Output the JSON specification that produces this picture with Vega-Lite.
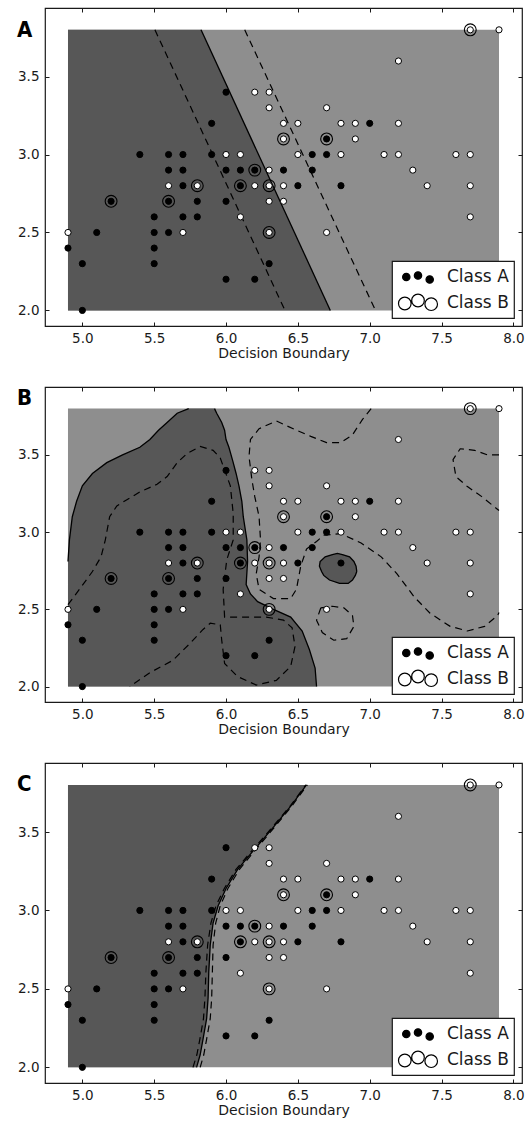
{
"$schema": "https://vega.github.io/schema/vega-lite/v6.json",
"padding": {"left": 4, "top": 6, "right": 0, "bottom": 0},
"spacing": 23,
"columns": 1,
"align": "none",
"config": {
 "view": {"stroke": "#1a1a1a", "strokeWidth": 1.2},
 "axis": {"grid": false, "domain": false, "labelFont": "DejaVu Sans", "labelFontSize": 13.5, "labelColor": "#1a1a1a", "tickColor": "#1a1a1a", "tickWidth": 1, "titleFont": "DejaVu Sans", "titleFontSize": 14, "titleFontWeight": "normal", "titleColor": "#1a1a1a", "labelFlush": false, "labelOverlap": false},
 "legend": {"strokeWidth": 1.2},
 "title": {"font": "DejaVu Sans Condensed", "fontWeight": "bold", "fontSize": 22, "color": "black", "anchor": "start", "frame": "group", "orient": "top", "offset": 0, "baseline": "top", "dx": -28}
},
"datasets": {
 "bg": [{"x": 4.9, "x2": 7.9, "y": 2.0, "y2": 3.8}],
 "pts": [
  {"x":7.0,"y":3.2,"cls":"Class A"},{"x":5.5,"y":2.3,"cls":"Class A"},{"x":6.5,"y":2.8,"cls":"Class A"},{"x":5.7,"y":2.8,"cls":"Class A"},{"x":4.9,"y":2.4,"cls":"Class A"},{"x":6.6,"y":2.9,"cls":"Class A"},{"x":5.2,"y":2.7,"cls":"Class A"},{"x":5.0,"y":2.0,"cls":"Class A"},{"x":5.9,"y":3.0,"cls":"Class A"},{"x":6.0,"y":2.2,"cls":"Class A"},{"x":6.1,"y":2.9,"cls":"Class A"},{"x":5.6,"y":2.9,"cls":"Class A"},{"x":6.7,"y":3.1,"cls":"Class A"},{"x":5.6,"y":3.0,"cls":"Class A"},{"x":5.8,"y":2.7,"cls":"Class A"},{"x":6.2,"y":2.2,"cls":"Class A"},{"x":5.6,"y":2.5,"cls":"Class A"},{"x":5.9,"y":3.2,"cls":"Class A"},{"x":6.1,"y":2.8,"cls":"Class A"},{"x":6.4,"y":2.9,"cls":"Class A"},{"x":6.6,"y":3.0,"cls":"Class A"},{"x":6.8,"y":2.8,"cls":"Class A"},{"x":6.7,"y":3.0,"cls":"Class A"},{"x":6.0,"y":2.9,"cls":"Class A"},{"x":5.7,"y":2.6,"cls":"Class A"},{"x":5.5,"y":2.4,"cls":"Class A"},{"x":6.0,"y":2.7,"cls":"Class A"},{"x":5.4,"y":3.0,"cls":"Class A"},{"x":6.0,"y":3.4,"cls":"Class A"},{"x":6.3,"y":2.3,"cls":"Class A"},{"x":5.5,"y":2.5,"cls":"Class A"},{"x":5.5,"y":2.6,"cls":"Class A"},{"x":5.8,"y":2.6,"cls":"Class A"},{"x":5.0,"y":2.3,"cls":"Class A"},{"x":5.6,"y":2.7,"cls":"Class A"},{"x":5.7,"y":3.0,"cls":"Class A"},{"x":5.7,"y":2.9,"cls":"Class A"},{"x":6.2,"y":2.9,"cls":"Class A"},{"x":5.1,"y":2.5,"cls":"Class A"},
  {"x":6.3,"y":3.3,"cls":"Class B"},{"x":7.1,"y":3.0,"cls":"Class B"},{"x":6.3,"y":2.9,"cls":"Class B"},{"x":6.5,"y":3.0,"cls":"Class B"},{"x":7.6,"y":3.0,"cls":"Class B"},{"x":4.9,"y":2.5,"cls":"Class B"},{"x":7.3,"y":2.9,"cls":"Class B"},{"x":6.7,"y":2.5,"cls":"Class B"},{"x":7.2,"y":3.6,"cls":"Class B"},{"x":6.5,"y":3.2,"cls":"Class B"},{"x":6.4,"y":2.7,"cls":"Class B"},{"x":6.8,"y":3.0,"cls":"Class B"},{"x":5.7,"y":2.5,"cls":"Class B"},{"x":5.8,"y":2.8,"cls":"Class B"},{"x":6.4,"y":3.2,"cls":"Class B"},{"x":7.7,"y":3.8,"cls":"Class B"},{"x":7.7,"y":2.6,"cls":"Class B"},{"x":6.9,"y":3.2,"cls":"Class B"},{"x":5.6,"y":2.8,"cls":"Class B"},{"x":7.7,"y":2.8,"cls":"Class B"},{"x":6.3,"y":2.7,"cls":"Class B"},{"x":6.7,"y":3.3,"cls":"Class B"},{"x":7.2,"y":3.2,"cls":"Class B"},{"x":6.2,"y":2.8,"cls":"Class B"},{"x":6.1,"y":3.0,"cls":"Class B"},{"x":6.4,"y":2.8,"cls":"Class B"},{"x":7.2,"y":3.0,"cls":"Class B"},{"x":7.4,"y":2.8,"cls":"Class B"},{"x":7.9,"y":3.8,"cls":"Class B"},{"x":6.3,"y":2.8,"cls":"Class B"},{"x":6.1,"y":2.6,"cls":"Class B"},{"x":7.7,"y":3.0,"cls":"Class B"},{"x":6.3,"y":3.4,"cls":"Class B"},{"x":6.4,"y":3.1,"cls":"Class B"},{"x":6.0,"y":3.0,"cls":"Class B"},{"x":6.9,"y":3.1,"cls":"Class B"},{"x":6.8,"y":3.2,"cls":"Class B"},{"x":6.3,"y":2.5,"cls":"Class B"},{"x":6.2,"y":3.4,"cls":"Class B"}
 ],
 "sv": [{"x":5.2,"y":2.7},{"x":5.6,"y":2.7},{"x":5.8,"y":2.8},{"x":6.1,"y":2.8},{"x":6.2,"y":2.9},{"x":6.3,"y":2.8},{"x":6.3,"y":2.5},{"x":6.4,"y":3.1},{"x":6.7,"y":3.1},{"x":7.7,"y":3.8}],
 "A_dark": [{"y":2.0,"xl":4.9,"xr":6.726},{"y":3.8,"xl":4.9,"xr":5.826}],
 "A_solid": [{"c":"s","i":0,"x":5.826,"y":3.8},{"c":"s","i":1,"x":6.726,"y":2.0}],
 "A_dash": [{"c":"d1","i":0,"x":5.505,"y":3.8},{"c":"d1","i":1,"x":6.41,"y":2.0},{"c":"d2","i":0,"x":6.13,"y":3.8},{"c":"d2","i":1,"x":7.04,"y":2.0}],
 "B_dark": [
  {"y":2.00,"xl":4.90,"xr":6.63},{"y":2.12,"xl":4.90,"xr":6.62},{"y":2.24,"xl":4.90,"xr":6.58},{"y":2.36,"xl":4.90,"xr":6.53},{"y":2.45,"xl":4.90,"xr":6.45},{"y":2.50,"xl":4.90,"xr":6.33},{"y":2.55,"xl":4.90,"xr":6.22},{"y":2.60,"xl":4.90,"xr":6.17},{"y":2.66,"xl":4.90,"xr":6.14},{"y":2.81,"xl":4.90,"xr":6.15},{"y":2.95,"xl":4.91,"xr":6.145},{"y":3.10,"xl":4.93,"xr":6.12},{"y":3.20,"xl":4.96,"xr":6.11},{"y":3.30,"xl":5.00,"xr":6.09},{"y":3.38,"xl":5.07,"xr":6.07},{"y":3.45,"xl":5.17,"xr":6.05},{"y":3.50,"xl":5.28,"xr":6.035},{"y":3.55,"xl":5.40,"xr":6.02},{"y":3.60,"xl":5.47,"xr":6.00},{"y":3.66,"xl":5.53,"xr":5.99},{"y":3.71,"xl":5.59,"xr":5.97},{"y":3.77,"xl":5.66,"xr":5.935},{"y":3.80,"xl":5.74,"xr":5.92}
 ],
 "B_ell": [
  {"y":2.668,"xl":6.79,"xr":6.85},{"y":2.69,"xl":6.72,"xr":6.88},{"y":2.72,"xl":6.68,"xr":6.90},{"y":2.745,"xl":6.665,"xr":6.91},{"y":2.78,"xl":6.65,"xr":6.905},{"y":2.81,"xl":6.655,"xr":6.89},{"y":2.84,"xl":6.69,"xr":6.86},{"y":2.855,"xl":6.74,"xr":6.81},{"y":2.862,"xl":6.77,"xr":6.78}
 ],
 "B_solid": [
  {"c":"s1","i":0,"x":4.90,"y":2.81},{"c":"s1","i":1,"x":4.91,"y":2.95},{"c":"s1","i":2,"x":4.93,"y":3.10},{"c":"s1","i":3,"x":4.96,"y":3.20},{"c":"s1","i":4,"x":5.00,"y":3.30},{"c":"s1","i":5,"x":5.07,"y":3.38},{"c":"s1","i":6,"x":5.17,"y":3.45},{"c":"s1","i":7,"x":5.28,"y":3.50},{"c":"s1","i":8,"x":5.40,"y":3.55},{"c":"s1","i":9,"x":5.47,"y":3.60},{"c":"s1","i":10,"x":5.53,"y":3.66},{"c":"s1","i":11,"x":5.59,"y":3.71},{"c":"s1","i":12,"x":5.66,"y":3.77},{"c":"s1","i":13,"x":5.74,"y":3.80},
  {"c":"s2","i":0,"x":5.92,"y":3.80},{"c":"s2","i":1,"x":5.935,"y":3.77},{"c":"s2","i":2,"x":5.97,"y":3.71},{"c":"s2","i":3,"x":5.99,"y":3.66},{"c":"s2","i":4,"x":6.00,"y":3.60},{"c":"s2","i":5,"x":6.02,"y":3.55},{"c":"s2","i":6,"x":6.035,"y":3.50},{"c":"s2","i":7,"x":6.05,"y":3.45},{"c":"s2","i":8,"x":6.07,"y":3.38},{"c":"s2","i":9,"x":6.09,"y":3.30},{"c":"s2","i":10,"x":6.11,"y":3.20},{"c":"s2","i":11,"x":6.12,"y":3.10},{"c":"s2","i":12,"x":6.145,"y":2.95},{"c":"s2","i":13,"x":6.15,"y":2.81},{"c":"s2","i":14,"x":6.14,"y":2.66},{"c":"s2","i":15,"x":6.17,"y":2.60},{"c":"s2","i":16,"x":6.22,"y":2.55},{"c":"s2","i":17,"x":6.33,"y":2.50},{"c":"s2","i":18,"x":6.45,"y":2.45},{"c":"s2","i":19,"x":6.53,"y":2.36},{"c":"s2","i":20,"x":6.58,"y":2.24},{"c":"s2","i":21,"x":6.62,"y":2.12},{"c":"s2","i":22,"x":6.63,"y":2.00},
  {"c":"s3","i":0,"x":6.91,"y":2.745},{"c":"s3","i":1,"x":6.905,"y":2.78},{"c":"s3","i":2,"x":6.89,"y":2.81},{"c":"s3","i":3,"x":6.86,"y":2.84},{"c":"s3","i":4,"x":6.81,"y":2.855},{"c":"s3","i":5,"x":6.775,"y":2.862},{"c":"s3","i":6,"x":6.74,"y":2.855},{"c":"s3","i":7,"x":6.69,"y":2.84},{"c":"s3","i":8,"x":6.655,"y":2.81},{"c":"s3","i":9,"x":6.65,"y":2.78},{"c":"s3","i":10,"x":6.665,"y":2.745},{"c":"s3","i":11,"x":6.68,"y":2.72},{"c":"s3","i":12,"x":6.72,"y":2.69},{"c":"s3","i":13,"x":6.79,"y":2.668},{"c":"s3","i":14,"x":6.85,"y":2.668},{"c":"s3","i":15,"x":6.88,"y":2.69},{"c":"s3","i":16,"x":6.90,"y":2.72},{"c":"s3","i":17,"x":6.91,"y":2.745}
 ],
 "B_dash": [
  {"c":"d1","i":0,"x":4.90,"y":2.53},{"c":"d1","i":1,"x":4.98,"y":2.63},{"c":"d1","i":2,"x":5.07,"y":2.745},{"c":"d1","i":3,"x":5.13,"y":2.84},{"c":"d1","i":4,"x":5.16,"y":2.95},{"c":"d1","i":5,"x":5.19,"y":3.10},{"c":"d1","i":6,"x":5.24,"y":3.17},{"c":"d1","i":7,"x":5.31,"y":3.21},{"c":"d1","i":8,"x":5.40,"y":3.26},{"c":"d1","i":9,"x":5.52,"y":3.31},{"c":"d1","i":10,"x":5.59,"y":3.36},{"c":"d1","i":11,"x":5.66,"y":3.45},{"c":"d1","i":12,"x":5.73,"y":3.51},{"c":"d1","i":13,"x":5.82,"y":3.555},{"c":"d1","i":14,"x":5.91,"y":3.53},{"c":"d1","i":15,"x":5.96,"y":3.48},{"c":"d1","i":16,"x":6.03,"y":3.30},{"c":"d1","i":17,"x":6.05,"y":3.12},{"c":"d1","i":18,"x":6.05,"y":2.95},{"c":"d1","i":19,"x":6.005,"y":2.82},{"c":"d1","i":20,"x":5.98,"y":2.63},{"c":"d1","i":21,"x":5.99,"y":2.45},{"c":"d1","i":22,"x":6.05,"y":2.45},{"c":"d1","i":23,"x":6.16,"y":2.45},{"c":"d1","i":24,"x":6.28,"y":2.45},{"c":"d1","i":25,"x":6.40,"y":2.43},{"c":"d1","i":26,"x":6.46,"y":2.38},{"c":"d1","i":27,"x":6.48,"y":2.26},{"c":"d1","i":28,"x":6.45,"y":2.13},{"c":"d1","i":29,"x":6.35,"y":2.04},{"c":"d1","i":30,"x":6.21,"y":2.01},{"c":"d1","i":31,"x":6.08,"y":2.065},{"c":"d1","i":32,"x":5.99,"y":2.15},{"c":"d1","i":33,"x":5.97,"y":2.30},{"c":"d1","i":34,"x":5.96,"y":2.40},{"c":"d1","i":35,"x":5.89,"y":2.41},{"c":"d1","i":36,"x":5.84,"y":2.37},{"c":"d1","i":37,"x":5.75,"y":2.28},{"c":"d1","i":38,"x":5.63,"y":2.17},{"c":"d1","i":39,"x":5.47,"y":2.09},{"c":"d1","i":40,"x":5.33,"y":2.00},
  {"c":"d2","i":0,"x":7.01,"y":3.80},{"c":"d2","i":1,"x":6.95,"y":3.73},{"c":"d2","i":2,"x":6.88,"y":3.63},{"c":"d2","i":3,"x":6.80,"y":3.58},{"c":"d2","i":4,"x":6.70,"y":3.58},{"c":"d2","i":5,"x":6.59,"y":3.62},{"c":"d2","i":6,"x":6.49,"y":3.66},{"c":"d2","i":7,"x":6.35,"y":3.72},{"c":"d2","i":8,"x":6.23,"y":3.67},{"c":"d2","i":9,"x":6.17,"y":3.60},{"c":"d2","i":10,"x":6.16,"y":3.49},{"c":"d2","i":11,"x":6.18,"y":3.34},{"c":"d2","i":12,"x":6.20,"y":3.23},{"c":"d2","i":13,"x":6.23,"y":3.10},{"c":"d2","i":14,"x":6.24,"y":2.95},{"c":"d2","i":15,"x":6.23,"y":2.84},{"c":"d2","i":16,"x":6.21,"y":2.73},{"c":"d2","i":17,"x":6.23,"y":2.63},{"c":"d2","i":18,"x":6.33,"y":2.57},{"c":"d2","i":19,"x":6.45,"y":2.57},{"c":"d2","i":20,"x":6.49,"y":2.63},{"c":"d2","i":21,"x":6.52,"y":2.78},{"c":"d2","i":22,"x":6.56,"y":2.89},{"c":"d2","i":23,"x":6.63,"y":2.94},{"c":"d2","i":24,"x":6.68,"y":2.98},{"c":"d2","i":25,"x":6.80,"y":2.99},{"c":"d2","i":26,"x":6.94,"y":2.93},{"c":"d2","i":27,"x":7.08,"y":2.84},{"c":"d2","i":28,"x":7.19,"y":2.73},{"c":"d2","i":29,"x":7.31,"y":2.58},{"c":"d2","i":30,"x":7.42,"y":2.475},{"c":"d2","i":31,"x":7.56,"y":2.39},{"c":"d2","i":32,"x":7.68,"y":2.36},{"c":"d2","i":33,"x":7.80,"y":2.39},{"c":"d2","i":34,"x":7.89,"y":2.46},{"c":"d2","i":35,"x":7.90,"y":2.48},
  {"c":"d3","i":0,"x":6.66,"y":2.51},{"c":"d3","i":1,"x":6.63,"y":2.43},{"c":"d3","i":2,"x":6.67,"y":2.35},{"c":"d3","i":3,"x":6.75,"y":2.30},{"c":"d3","i":4,"x":6.84,"y":2.31},{"c":"d3","i":5,"x":6.89,"y":2.39},{"c":"d3","i":6,"x":6.88,"y":2.46},{"c":"d3","i":7,"x":6.82,"y":2.51},{"c":"d3","i":8,"x":6.74,"y":2.52},{"c":"d3","i":9,"x":6.66,"y":2.51},
  {"c":"d4","i":0,"x":7.90,"y":3.50},{"c":"d4","i":1,"x":7.82,"y":3.50},{"c":"d4","i":2,"x":7.73,"y":3.53},{"c":"d4","i":3,"x":7.63,"y":3.54},{"c":"d4","i":4,"x":7.58,"y":3.47},{"c":"d4","i":5,"x":7.60,"y":3.36},{"c":"d4","i":6,"x":7.68,"y":3.295},{"c":"d4","i":7,"x":7.78,"y":3.23},{"c":"d4","i":8,"x":7.88,"y":3.155},{"c":"d4","i":9,"x":7.90,"y":3.14}
 ],
 "C_dark": [
  {"y":2.00,"xl":4.9,"xr":5.795},{"y":2.08,"xl":4.9,"xr":5.82},{"y":2.18,"xl":4.9,"xr":5.84},{"y":2.31,"xl":4.9,"xr":5.865},{"y":2.44,"xl":4.9,"xr":5.875},{"y":2.61,"xl":4.9,"xr":5.88},{"y":2.78,"xl":4.9,"xr":5.89},{"y":2.92,"xl":4.9,"xr":5.91},{"y":3.03,"xl":4.9,"xr":5.945},{"y":3.14,"xl":4.9,"xr":6.00},{"y":3.26,"xl":4.9,"xr":6.08},{"y":3.37,"xl":4.9,"xr":6.18},{"y":3.52,"xl":4.9,"xr":6.32},{"y":3.67,"xl":4.9,"xr":6.455},{"y":3.80,"xl":4.9,"xr":6.56}
 ],
 "C_solid": [
  {"c":"s","i":0,"x":5.795,"y":2.00},{"c":"s","i":1,"x":5.82,"y":2.08},{"c":"s","i":2,"x":5.84,"y":2.18},{"c":"s","i":3,"x":5.865,"y":2.31},{"c":"s","i":4,"x":5.875,"y":2.44},{"c":"s","i":5,"x":5.88,"y":2.61},{"c":"s","i":6,"x":5.89,"y":2.78},{"c":"s","i":7,"x":5.91,"y":2.92},{"c":"s","i":8,"x":5.945,"y":3.03},{"c":"s","i":9,"x":6.00,"y":3.14},{"c":"s","i":10,"x":6.08,"y":3.26},{"c":"s","i":11,"x":6.18,"y":3.37},{"c":"s","i":12,"x":6.32,"y":3.52},{"c":"s","i":13,"x":6.455,"y":3.67},{"c":"s","i":14,"x":6.56,"y":3.80}
 ],
 "C_dash": [
  {"c":"d1","i":0,"x":5.77,"y":2.00},{"c":"d1","i":1,"x":5.797,"y":2.08},{"c":"d1","i":2,"x":5.818,"y":2.18},{"c":"d1","i":3,"x":5.843,"y":2.31},{"c":"d1","i":4,"x":5.853,"y":2.44},{"c":"d1","i":5,"x":5.86,"y":2.61},{"c":"d1","i":6,"x":5.872,"y":2.78},{"c":"d1","i":7,"x":5.895,"y":2.92},{"c":"d1","i":8,"x":5.93,"y":3.03},{"c":"d1","i":9,"x":5.988,"y":3.14},{"c":"d1","i":10,"x":6.068,"y":3.26},{"c":"d1","i":11,"x":6.17,"y":3.37},{"c":"d1","i":12,"x":6.312,"y":3.52},{"c":"d1","i":13,"x":6.45,"y":3.67},{"c":"d1","i":14,"x":6.555,"y":3.80},
  {"c":"d2","i":0,"x":5.82,"y":2.00},{"c":"d2","i":1,"x":5.845,"y":2.08},{"c":"d2","i":2,"x":5.865,"y":2.18},{"c":"d2","i":3,"x":5.89,"y":2.31},{"c":"d2","i":4,"x":5.90,"y":2.44},{"c":"d2","i":5,"x":5.905,"y":2.61},{"c":"d2","i":6,"x":5.91,"y":2.78},{"c":"d2","i":7,"x":5.928,"y":2.92},{"c":"d2","i":8,"x":5.96,"y":3.03},{"c":"d2","i":9,"x":6.013,"y":3.14},{"c":"d2","i":10,"x":6.092,"y":3.26},{"c":"d2","i":11,"x":6.19,"y":3.37},{"c":"d2","i":12,"x":6.328,"y":3.52},{"c":"d2","i":13,"x":6.462,"y":3.67},{"c":"d2","i":14,"x":6.566,"y":3.80}
 ]
},
"concat": [
 {
  "width": 477, "height": 318,
  "title": {"text": "A", "dy": 38},
  "layer": [
   {"data": {"name": "bg"}, "mark": {"type": "rect", "fill": "#8e8e8e"},
    "encoding": {
     "x": {"field": "x", "type": "quantitative", "scale": {"domain": [4.74, 8.06], "nice": false, "zero": false}, "axis": {"orient": "bottom", "values": [5, 5.5, 6, 6.5, 7, 7.5, 8], "format": ".1f", "title": "Decision Boundary", "tickSize": -4, "labelPadding": 9, "titlePadding": 2}},
     "x2": {"field": "x2"},
     "y": {"field": "y", "type": "quantitative", "scale": {"domain": [1.9, 3.94], "nice": false, "zero": false}, "axis": {"orient": "left", "values": [2, 2.5, 3, 3.5], "format": ".1f", "title": null, "tickSize": -4, "labelPadding": 10, "minExtent": 39, "maxExtent": 39}},
     "y2": {"field": "y2"}}},
   {"data": {"name": "A_dark"}, "mark": {"type": "area", "orient": "horizontal", "fill": "#575757"},
    "encoding": {
     "y": {"field": "y", "type": "quantitative", "scale": {"domain": [1.9, 3.94], "nice": false, "zero": false}, "axis": {"orient": "right", "values": [2, 2.5, 3, 3.5], "labels": false, "title": null, "tickSize": -4, "minExtent": 0, "maxExtent": 0}},
     "x": {"field": "xl", "type": "quantitative", "stack": null, "scale": {"domain": [4.74, 8.06], "nice": false, "zero": false}, "axis": {"orient": "top", "values": [5, 5.5, 6, 6.5, 7, 7.5, 8], "labels": false, "title": null, "tickSize": -4, "minExtent": 0, "maxExtent": 0}},
     "x2": {"field": "xr"}}},
   {"data": {"name": "A_dash"}, "mark": {"type": "line", "stroke": "black", "strokeWidth": 1.2, "strokeDash": [7, 5]},
    "encoding": {
     "x": {"field": "x", "type": "quantitative", "scale": {"domain": [4.74, 8.06], "nice": false, "zero": false}, "axis": null},
     "y": {"field": "y", "type": "quantitative", "scale": {"domain": [1.9, 3.94], "nice": false, "zero": false}, "axis": null},
     "detail": {"field": "c"}, "order": {"field": "i", "type": "quantitative"}}},
   {"data": {"name": "A_solid"}, "mark": {"type": "line", "stroke": "black", "strokeWidth": 1.3},
    "encoding": {
     "x": {"field": "x", "type": "quantitative", "scale": {"domain": [4.74, 8.06], "nice": false, "zero": false}, "axis": null},
     "y": {"field": "y", "type": "quantitative", "scale": {"domain": [1.9, 3.94], "nice": false, "zero": false}, "axis": null},
     "detail": {"field": "c"}, "order": {"field": "i", "type": "quantitative"}}},
   {"data": {"name": "pts"}, "mark": {"type": "circle", "size": 38, "stroke": "black", "strokeWidth": 1, "opacity": 1},
    "encoding": {
     "x": {"field": "x", "type": "quantitative", "scale": {"domain": [4.74, 8.06], "nice": false, "zero": false}, "axis": null},
     "y": {"field": "y", "type": "quantitative", "scale": {"domain": [1.9, 3.94], "nice": false, "zero": false}, "axis": null},
     "fill": {"field": "cls", "type": "nominal", "scale": {"domain": ["Class A", "Class B"], "range": ["black", "white"]},
      "legend": {"title": null, "orient": "bottom-right", "offset": 8, "fillColor": "white", "strokeColor": "#1a1a1a", "padding": 5, "labelFont": "DejaVu Sans", "labelFontSize": 17, "labelColor": "#1a1a1a", "symbolSize": 400, "symbolStrokeColor": "black", "symbolStrokeWidth": 1.2, "symbolOpacity": 1, "symbolOffset": 10, "labelOffset": 18, "rowPadding": 5,
       "encode": {"symbols": {"update": {"shape": [{"test": "datum.label === 'Class A'", "value": "M-0.8,0 C-0.8,0.204 -0.966,0.37 -1.17,0.37 C-1.374,0.37 -1.54,0.204 -1.54,0 C-1.54,-0.204 -1.374,-0.37 -1.17,-0.37 C-0.966,-0.37 -0.8,-0.204 -0.8,0 Z M0.37,-0.15 C0.37,0.054 0.204,0.22 0,0.22 C-0.204,0.22 -0.37,0.054 -0.37,-0.15 C-0.37,-0.354 -0.204,-0.52 0,-0.52 C0.204,-0.52 0.37,-0.354 0.37,-0.15 Z M1.54,0.25 C1.54,0.454 1.374,0.62 1.17,0.62 C0.966,0.62 0.8,0.454 0.8,0.25 C0.8,0.046 0.966,-0.12 1.17,-0.12 C1.374,-0.12 1.54,0.046 1.54,0.25 Z"}, {"value": "M-0.69,0.05 C-0.69,0.398 -0.972,0.68 -1.32,0.68 C-1.668,0.68 -1.95,0.398 -1.95,0.05 C-1.95,-0.298 -1.668,-0.58 -1.32,-0.58 C-0.972,-0.58 -0.69,-0.298 -0.69,0.05 Z M0.63,-0.25 C0.63,0.098 0.348,0.38 0,0.38 C-0.348,0.38 -0.63,0.098 -0.63,-0.25 C-0.63,-0.598 -0.348,-0.88 0,-0.88 C0.348,-0.88 0.63,-0.598 0.63,-0.25 Z M1.95,0.12 C1.95,0.468 1.668,0.75 1.32,0.75 C0.972,0.75 0.69,0.468 0.69,0.12 C0.69,-0.228 0.972,-0.51 1.32,-0.51 C1.668,-0.51 1.95,-0.228 1.95,0.12 Z"}]}}}}}}},
   {"data": {"name": "sv"}, "mark": {"type": "point", "shape": "circle", "filled": false, "size": 140, "stroke": "black", "strokeWidth": 1.1, "opacity": 1},
    "encoding": {
     "x": {"field": "x", "type": "quantitative", "scale": {"domain": [4.74, 8.06], "nice": false, "zero": false}, "axis": null},
     "y": {"field": "y", "type": "quantitative", "scale": {"domain": [1.9, 3.94], "nice": false, "zero": false}, "axis": null}}}
  ],
  "resolve": {"axis": {"x": "independent", "y": "independent"}}
 },
 {
  "width": 477, "height": 315,
  "title": {"text": "B", "dy": 27},
  "layer": [
   {"data": {"name": "bg"}, "mark": {"type": "rect", "fill": "#8e8e8e"},
    "encoding": {
     "x": {"field": "x", "type": "quantitative", "scale": {"domain": [4.74, 8.06], "nice": false, "zero": false}, "axis": {"orient": "bottom", "values": [5, 5.5, 6, 6.5, 7, 7.5, 8], "format": ".1f", "title": "Decision Boundary", "tickSize": -4, "labelPadding": 9, "titlePadding": 2}},
     "x2": {"field": "x2"},
     "y": {"field": "y", "type": "quantitative", "scale": {"domain": [1.9, 3.94], "nice": false, "zero": false}, "axis": {"orient": "left", "values": [2, 2.5, 3, 3.5], "format": ".1f", "title": null, "tickSize": -4, "labelPadding": 10, "minExtent": 40, "maxExtent": 40}},
     "y2": {"field": "y2"}}},
   {"data": {"name": "B_dark"}, "mark": {"type": "area", "orient": "horizontal", "fill": "#575757"},
    "encoding": {
     "y": {"field": "y", "type": "quantitative", "scale": {"domain": [1.9, 3.94], "nice": false, "zero": false}, "axis": {"orient": "right", "values": [2, 2.5, 3, 3.5], "labels": false, "title": null, "tickSize": -4, "minExtent": 0, "maxExtent": 0}},
     "x": {"field": "xl", "type": "quantitative", "stack": null, "scale": {"domain": [4.74, 8.06], "nice": false, "zero": false}, "axis": {"orient": "top", "values": [5, 5.5, 6, 6.5, 7, 7.5, 8], "labels": false, "title": null, "tickSize": -4, "minExtent": 0, "maxExtent": 0}},
     "x2": {"field": "xr"}}},
   {"data": {"name": "B_ell"}, "mark": {"type": "area", "orient": "horizontal", "fill": "#575757"},
    "encoding": {
     "y": {"field": "y", "type": "quantitative", "scale": {"domain": [1.9, 3.94], "nice": false, "zero": false}, "axis": null},
     "x": {"field": "xl", "type": "quantitative", "stack": null, "scale": {"domain": [4.74, 8.06], "nice": false, "zero": false}, "axis": null},
     "x2": {"field": "xr"}}},
   {"data": {"name": "B_dash"}, "mark": {"type": "line", "stroke": "black", "strokeWidth": 1.2, "strokeDash": [7, 5]},
    "encoding": {
     "x": {"field": "x", "type": "quantitative", "scale": {"domain": [4.74, 8.06], "nice": false, "zero": false}, "axis": null},
     "y": {"field": "y", "type": "quantitative", "scale": {"domain": [1.9, 3.94], "nice": false, "zero": false}, "axis": null},
     "detail": {"field": "c"}, "order": {"field": "i", "type": "quantitative"}}},
   {"data": {"name": "B_solid"}, "mark": {"type": "line", "stroke": "black", "strokeWidth": 1.3},
    "encoding": {
     "x": {"field": "x", "type": "quantitative", "scale": {"domain": [4.74, 8.06], "nice": false, "zero": false}, "axis": null},
     "y": {"field": "y", "type": "quantitative", "scale": {"domain": [1.9, 3.94], "nice": false, "zero": false}, "axis": null},
     "detail": {"field": "c"}, "order": {"field": "i", "type": "quantitative"}}},
   {"data": {"name": "pts"}, "mark": {"type": "circle", "size": 38, "stroke": "black", "strokeWidth": 1, "opacity": 1},
    "encoding": {
     "x": {"field": "x", "type": "quantitative", "scale": {"domain": [4.74, 8.06], "nice": false, "zero": false}, "axis": null},
     "y": {"field": "y", "type": "quantitative", "scale": {"domain": [1.9, 3.94], "nice": false, "zero": false}, "axis": null},
     "fill": {"field": "cls", "type": "nominal", "scale": {"domain": ["Class A", "Class B"], "range": ["black", "white"]},
      "legend": {"title": null, "orient": "bottom-right", "offset": 8, "fillColor": "white", "strokeColor": "#1a1a1a", "padding": 5, "labelFont": "DejaVu Sans", "labelFontSize": 17, "labelColor": "#1a1a1a", "symbolSize": 400, "symbolStrokeColor": "black", "symbolStrokeWidth": 1.2, "symbolOpacity": 1, "symbolOffset": 10, "labelOffset": 18, "rowPadding": 5,
       "encode": {"symbols": {"update": {"shape": [{"test": "datum.label === 'Class A'", "value": "M-0.8,0 C-0.8,0.204 -0.966,0.37 -1.17,0.37 C-1.374,0.37 -1.54,0.204 -1.54,0 C-1.54,-0.204 -1.374,-0.37 -1.17,-0.37 C-0.966,-0.37 -0.8,-0.204 -0.8,0 Z M0.37,-0.15 C0.37,0.054 0.204,0.22 0,0.22 C-0.204,0.22 -0.37,0.054 -0.37,-0.15 C-0.37,-0.354 -0.204,-0.52 0,-0.52 C0.204,-0.52 0.37,-0.354 0.37,-0.15 Z M1.54,0.25 C1.54,0.454 1.374,0.62 1.17,0.62 C0.966,0.62 0.8,0.454 0.8,0.25 C0.8,0.046 0.966,-0.12 1.17,-0.12 C1.374,-0.12 1.54,0.046 1.54,0.25 Z"}, {"value": "M-0.69,0.05 C-0.69,0.398 -0.972,0.68 -1.32,0.68 C-1.668,0.68 -1.95,0.398 -1.95,0.05 C-1.95,-0.298 -1.668,-0.58 -1.32,-0.58 C-0.972,-0.58 -0.69,-0.298 -0.69,0.05 Z M0.63,-0.25 C0.63,0.098 0.348,0.38 0,0.38 C-0.348,0.38 -0.63,0.098 -0.63,-0.25 C-0.63,-0.598 -0.348,-0.88 0,-0.88 C0.348,-0.88 0.63,-0.598 0.63,-0.25 Z M1.95,0.12 C1.95,0.468 1.668,0.75 1.32,0.75 C0.972,0.75 0.69,0.468 0.69,0.12 C0.69,-0.228 0.972,-0.51 1.32,-0.51 C1.668,-0.51 1.95,-0.228 1.95,0.12 Z"}]}}}}}}},
   {"data": {"name": "sv"}, "mark": {"type": "point", "shape": "circle", "filled": false, "size": 140, "stroke": "black", "strokeWidth": 1.1, "opacity": 1},
    "encoding": {
     "x": {"field": "x", "type": "quantitative", "scale": {"domain": [4.74, 8.06], "nice": false, "zero": false}, "axis": null},
     "y": {"field": "y", "type": "quantitative", "scale": {"domain": [1.9, 3.94], "nice": false, "zero": false}, "axis": null}}}
  ],
  "resolve": {"axis": {"x": "independent", "y": "independent"}}
 },
 {
  "width": 477, "height": 320,
  "title": {"text": "C", "dy": 37},
  "layer": [
   {"data": {"name": "bg"}, "mark": {"type": "rect", "fill": "#8e8e8e"},
    "encoding": {
     "x": {"field": "x", "type": "quantitative", "scale": {"domain": [4.74, 8.06], "nice": false, "zero": false}, "axis": {"orient": "bottom", "values": [5, 5.5, 6, 6.5, 7, 7.5, 8], "format": ".1f", "title": "Decision Boundary", "tickSize": -4, "labelPadding": 9, "titlePadding": 2}},
     "x2": {"field": "x2"},
     "y": {"field": "y", "type": "quantitative", "scale": {"domain": [1.9, 3.94], "nice": false, "zero": false}, "axis": {"orient": "left", "values": [2, 2.5, 3, 3.5], "format": ".1f", "title": null, "tickSize": -4, "labelPadding": 10, "minExtent": 34, "maxExtent": 34}},
     "y2": {"field": "y2"}}},
   {"data": {"name": "C_dark"}, "mark": {"type": "area", "orient": "horizontal", "fill": "#575757"},
    "encoding": {
     "y": {"field": "y", "type": "quantitative", "scale": {"domain": [1.9, 3.94], "nice": false, "zero": false}, "axis": {"orient": "right", "values": [2, 2.5, 3, 3.5], "labels": false, "title": null, "tickSize": -4, "minExtent": 0, "maxExtent": 0}},
     "x": {"field": "xl", "type": "quantitative", "stack": null, "scale": {"domain": [4.74, 8.06], "nice": false, "zero": false}, "axis": {"orient": "top", "values": [5, 5.5, 6, 6.5, 7, 7.5, 8], "labels": false, "title": null, "tickSize": -4, "minExtent": 0, "maxExtent": 0}},
     "x2": {"field": "xr"}}},
   {"data": {"name": "C_dash"}, "mark": {"type": "line", "stroke": "black", "strokeWidth": 1.2, "strokeDash": [7, 5]},
    "encoding": {
     "x": {"field": "x", "type": "quantitative", "scale": {"domain": [4.74, 8.06], "nice": false, "zero": false}, "axis": null},
     "y": {"field": "y", "type": "quantitative", "scale": {"domain": [1.9, 3.94], "nice": false, "zero": false}, "axis": null},
     "detail": {"field": "c"}, "order": {"field": "i", "type": "quantitative"}}},
   {"data": {"name": "C_solid"}, "mark": {"type": "line", "stroke": "black", "strokeWidth": 1.3},
    "encoding": {
     "x": {"field": "x", "type": "quantitative", "scale": {"domain": [4.74, 8.06], "nice": false, "zero": false}, "axis": null},
     "y": {"field": "y", "type": "quantitative", "scale": {"domain": [1.9, 3.94], "nice": false, "zero": false}, "axis": null},
     "detail": {"field": "c"}, "order": {"field": "i", "type": "quantitative"}}},
   {"data": {"name": "pts"}, "mark": {"type": "circle", "size": 38, "stroke": "black", "strokeWidth": 1, "opacity": 1},
    "encoding": {
     "x": {"field": "x", "type": "quantitative", "scale": {"domain": [4.74, 8.06], "nice": false, "zero": false}, "axis": null},
     "y": {"field": "y", "type": "quantitative", "scale": {"domain": [1.9, 3.94], "nice": false, "zero": false}, "axis": null},
     "fill": {"field": "cls", "type": "nominal", "scale": {"domain": ["Class A", "Class B"], "range": ["black", "white"]},
      "legend": {"title": null, "orient": "bottom-right", "offset": 8, "fillColor": "white", "strokeColor": "#1a1a1a", "padding": 5, "labelFont": "DejaVu Sans", "labelFontSize": 17, "labelColor": "#1a1a1a", "symbolSize": 400, "symbolStrokeColor": "black", "symbolStrokeWidth": 1.2, "symbolOpacity": 1, "symbolOffset": 10, "labelOffset": 18, "rowPadding": 5,
       "encode": {"symbols": {"update": {"shape": [{"test": "datum.label === 'Class A'", "value": "M-0.8,0 C-0.8,0.204 -0.966,0.37 -1.17,0.37 C-1.374,0.37 -1.54,0.204 -1.54,0 C-1.54,-0.204 -1.374,-0.37 -1.17,-0.37 C-0.966,-0.37 -0.8,-0.204 -0.8,0 Z M0.37,-0.15 C0.37,0.054 0.204,0.22 0,0.22 C-0.204,0.22 -0.37,0.054 -0.37,-0.15 C-0.37,-0.354 -0.204,-0.52 0,-0.52 C0.204,-0.52 0.37,-0.354 0.37,-0.15 Z M1.54,0.25 C1.54,0.454 1.374,0.62 1.17,0.62 C0.966,0.62 0.8,0.454 0.8,0.25 C0.8,0.046 0.966,-0.12 1.17,-0.12 C1.374,-0.12 1.54,0.046 1.54,0.25 Z"}, {"value": "M-0.69,0.05 C-0.69,0.398 -0.972,0.68 -1.32,0.68 C-1.668,0.68 -1.95,0.398 -1.95,0.05 C-1.95,-0.298 -1.668,-0.58 -1.32,-0.58 C-0.972,-0.58 -0.69,-0.298 -0.69,0.05 Z M0.63,-0.25 C0.63,0.098 0.348,0.38 0,0.38 C-0.348,0.38 -0.63,0.098 -0.63,-0.25 C-0.63,-0.598 -0.348,-0.88 0,-0.88 C0.348,-0.88 0.63,-0.598 0.63,-0.25 Z M1.95,0.12 C1.95,0.468 1.668,0.75 1.32,0.75 C0.972,0.75 0.69,0.468 0.69,0.12 C0.69,-0.228 0.972,-0.51 1.32,-0.51 C1.668,-0.51 1.95,-0.228 1.95,0.12 Z"}]}}}}}}},
   {"data": {"name": "sv"}, "mark": {"type": "point", "shape": "circle", "filled": false, "size": 140, "stroke": "black", "strokeWidth": 1.1, "opacity": 1},
    "encoding": {
     "x": {"field": "x", "type": "quantitative", "scale": {"domain": [4.74, 8.06], "nice": false, "zero": false}, "axis": null},
     "y": {"field": "y", "type": "quantitative", "scale": {"domain": [1.9, 3.94], "nice": false, "zero": false}, "axis": null}}}
  ],
  "resolve": {"axis": {"x": "independent", "y": "independent"}}
 }
],
"resolve": {"scale": {"fill": "independent"}, "legend": {"fill": "independent"}}
}
